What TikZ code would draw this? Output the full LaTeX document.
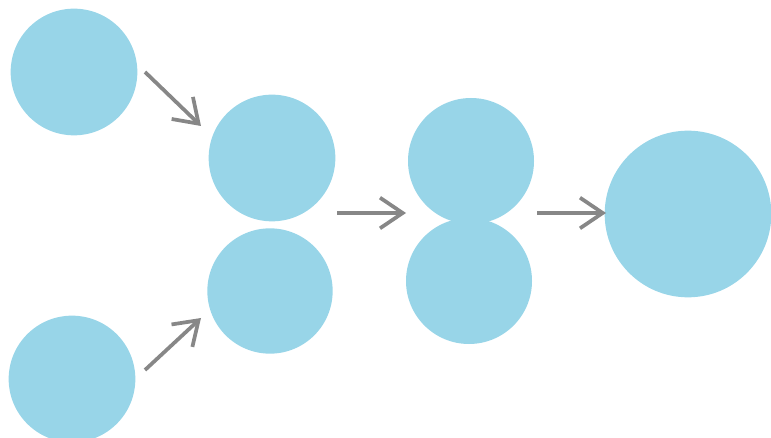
\documentclass[tikz,border=0pt]{standalone}
\usepackage{tikz}
\usetikzlibrary{arrows.meta, positioning}

\definecolor{bubble}{HTML}{98D5E8}
\definecolor{arrowgray}{HTML}{878787}

\tikzset{
  bubble/.style={circle, fill=bubble, inner sep=0pt, minimum size=#1},
  bubble/.default=95pt,
  flow/.style={draw=arrowgray, line width=2.8pt, -{Straight Barb[length=17pt, width=23pt, line width=2.8pt]}}
}

\begin{document}
\begin{tikzpicture}[x=0.75pt, y=-0.75pt]
        \useasboundingbox (0,0) rectangle (771,438);
        % inputs
        \node[bubble] (inA) at (74,72) {};
        \node[bubble] (inB) at (72,379) {};
        % first pair
        \node[bubble] (pairTop) at (272,158) {};
        \node[bubble=94pt] (pairBot) at (270,291) {};
        % merged pair
        \node[bubble=94.5pt] (mergeBot) at (469,281) {};
        \node[bubble=94.5pt] (mergeTop) at (471,161) {};
        % result
        \node[bubble=125pt] (result) at (688,214) {};
        % arrow ends
        \coordinate (a1s) at (145,72);  \coordinate (a1e) at (201,126);
        \coordinate (a2s) at (145,370); \coordinate (a2e) at (201,318);
        \coordinate (a3s) at (337,213); \coordinate (a3e) at (406,213);
        \coordinate (a4s) at (537,213); \coordinate (a4e) at (606,213);
        \draw[flow] (a1s) -- (a1e);
        \draw[flow] (a2s) -- (a2e);
        \draw[flow] (a3s) -- (a3e);
        \draw[flow] (a4s) -- (a4e);
\end{tikzpicture}
\end{document}
